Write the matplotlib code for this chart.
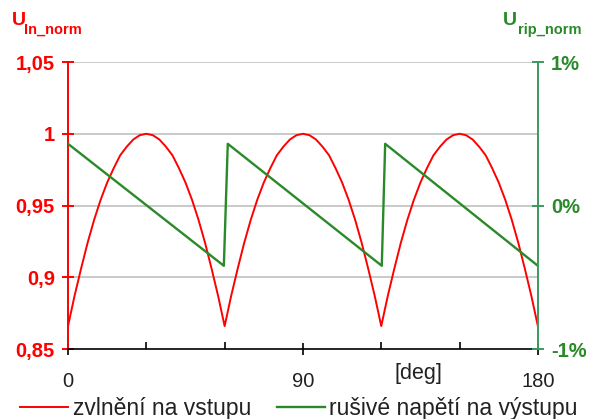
import matplotlib.pyplot as plt
from matplotlib.ticker import FixedLocator, FuncFormatter

# hodnoty odectene z grafu
# jeden oblouk zvlneni (krok 2.5 deg, 0..60 deg)
oblouk = [0.866, 0.887, 0.906, 0.924, 0.940, 0.954, 0.966, 0.976, 0.985, 0.991,
          0.996, 0.999, 1.000, 0.999, 0.996, 0.991, 0.985, 0.976, 0.966, 0.954,
          0.940, 0.924, 0.906, 0.887, 0.866]
krok = 2.5
vstup_y = oblouk + oblouk[1:] + oblouk[1:]
vstup_x = [i * krok for i in range(len(vstup_y))]

# rusive napeti na vystupu [%]
vystup_x = [0, 59.7, 61.2, 120.2, 121.5, 180]
vystup_y = [0.43, -0.42, 0.43, -0.42, 0.43, -0.42]

levy_ticks = [0.85, 0.9, 0.95, 1.0, 1.05]
levy_labels = ['0,85', '0,9', '0,95', '1', '1,05']
pravy_ticks = [-1, 0, 1]
x_major = [0, 90, 180]
x_minor = [30, 60, 120, 150]

cervena = '#ff0000'
zelena = '#2a8a2a'
zelena_osa = '#3a9a5e'

plt.rcParams['font.family'] = ['Liberation Sans', 'DejaVu Sans']

fig = plt.figure(figsize=(5.95, 4.19), dpi=100)
ax = fig.add_axes([0.1143, 0.167, 0.7897, 0.685])
ax2 = ax.twinx()

l1, = ax.plot(vstup_x, vstup_y, color=cervena, lw=1.4, label='zvlnění na vstupu')
l2, = ax2.plot(vystup_x, vystup_y, color=zelena, lw=1.7, label='rušivé napětí na výstupu')

ax.set_xlim(0, 180)
ax.set_ylim(0.85, 1.05)
ax2.set_ylim(-1, 1)

ax.set_yticks(levy_ticks)
ax.set_yticklabels(levy_labels)
for t in [1.05, 1.0, 0.95, 0.9]:
    ax.axhline(t, color='#c0c0c0', lw=1.2, zorder=0)

ax2.set_yticks(pravy_ticks)
ax2.yaxis.set_major_formatter(FuncFormatter(lambda v, p: '%d%%' % v))

ax.xaxis.set_major_locator(FixedLocator(x_major))
ax.xaxis.set_minor_locator(FixedLocator(x_minor))

for s in ['top']:
    ax.spines[s].set_visible(False)
    ax2.spines[s].set_visible(False)
ax2.spines['left'].set_visible(False)
ax2.spines['bottom'].set_visible(False)
ax.spines['right'].set_visible(False)
ax.spines['left'].set_color(cervena)
ax.spines['left'].set_linewidth(1.4)
ax2.spines['right'].set_color(zelena_osa)
ax2.spines['right'].set_linewidth(1.4)
ax.spines['bottom'].set_color('black')
ax.spines['bottom'].set_linewidth(1.2)

ax.tick_params(axis='y', colors=cervena, direction='inout', length=9, width=1.4,
               labelsize=14.5, pad=5)
for lab in ax.get_yticklabels():
    lab.set_fontweight('bold')
ax2.tick_params(axis='y', colors=zelena_osa, direction='inout', length=9, width=1.4,
                labelsize=14.5, pad=5, labelcolor=zelena)
for lab in ax2.get_yticklabels():
    lab.set_fontweight('bold')
ax.tick_params(axis='x', which='major', direction='inout', length=9, width=1.2,
               labelsize=14.5, pad=12, labelcolor='#222222')
ax.tick_params(axis='x', which='minor', direction='in', length=5, width=1.2)

ax.text(134.4, 0.8326, '[deg]', ha='center', va='center', fontsize=15.5,
        color='#222222')

fig.text(0.02, 0.95, 'U', color=cervena, fontsize=14, fontweight='bold', va='center')
fig.text(0.041, 0.928, 'In_norm', color=cervena, fontsize=10.5, fontweight='bold', va='center')
fig.text(0.845, 0.95, 'U', color=zelena, fontsize=14, fontweight='bold', va='center')
fig.text(0.871, 0.928, 'rip_norm', color=zelena, fontsize=10.5, fontweight='bold', va='center')

fig.legend(handles=[l1, l2], loc='center left', bbox_to_anchor=(0.034, 0.026), ncol=2,
           frameon=False, fontsize=16.5, handlelength=2.1, handletextpad=0.2,
           columnspacing=1.1, labelcolor='#222222', borderpad=0, borderaxespad=0)

fig.savefig('out.png', dpi=100)
